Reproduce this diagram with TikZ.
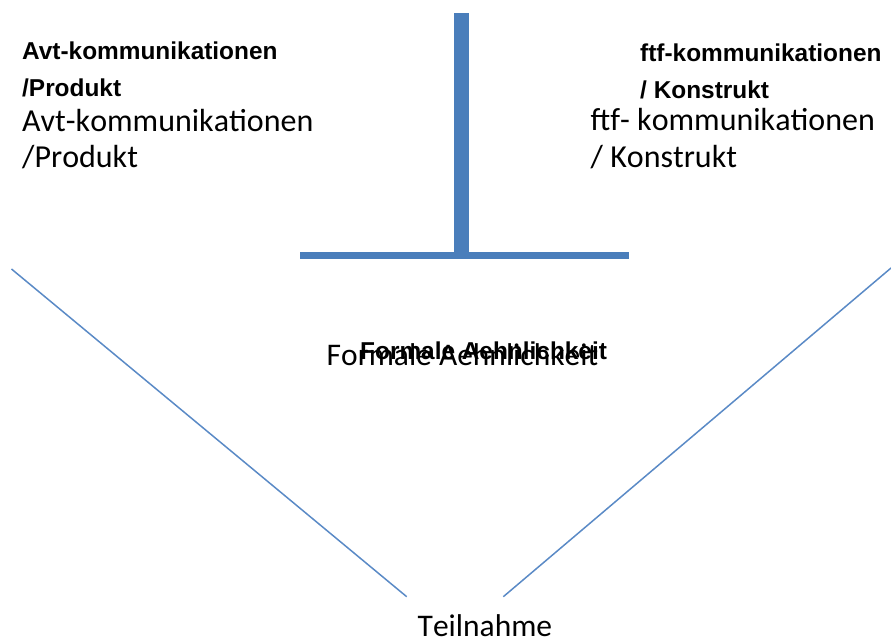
\documentclass[tikz,border=0pt]{standalone}
\usepackage{fontspec}
\setmainfont{Carlito}[Kerning=Off]
\newfontfamily\arialf{Liberation Sans}
\definecolor{barblue}{HTML}{4A7EBB}
\definecolor{lineblue}{HTML}{5A8AC6}
\begin{document}
\begin{tikzpicture}[x=1pt,y=-1pt,
  arial/.style={anchor=base west,inner sep=0pt,font=\arialf\bfseries\fontsize{24.4}{28}\selectfont},
  calib/.style={anchor=base west,inner sep=0pt,font=\fontsize{31.5}{36}\selectfont},
  calibtop/.style={calib,font=\fontsize{32}{36}\selectfont},
  thinline/.style={draw=lineblue,line width=1.5pt}]
\useasboundingbox (0,0) rectangle (891,641);
% T-shaped bar
\fill[barblue] (453.7,13) rectangle (469,256);
\fill[barblue] (300,252.3) rectangle (629,258.7);
% left block
\node[arial] (a1) at (22,59) {Avt-kommunikationen};
\node[arial] (a2) at (22,96) {/Produkt};
\node[calibtop] (c1) at (22,131) {Avt-kommunikationen};
\node[calibtop] (c2) at (22,167) {/Produkt};
% right block
\node[arial] (a3) at (640,61) {ftf-kommunikationen};
\node[arial] (a4) at (640,98) {/ Konstrukt};
\node[calibtop] (c3) at (590.5,130) {ftf- kommunikationen};
\node[calibtop] (c4) at (590.5,167) {/ Konstrukt};
% middle
\node[calib] (fc) at (326.5,365) {Formale Aehnlichkeit};
\node[arial] (fa) at (360,359) {Formale Aehnlichkeit};
% bottom
\node[calib] (t) at (417.5,636.5) {Teilnahme};
% V lines
\coordinate (l1) at (11.5,269);
\coordinate (l2) at (406.7,596.7);
\coordinate (r1) at (891,268);
\coordinate (r2) at (503.3,596.7);
\draw[thinline] (l1) -- (l2);
\draw[thinline] (r1) -- (r2);
\end{tikzpicture}
\end{document}
